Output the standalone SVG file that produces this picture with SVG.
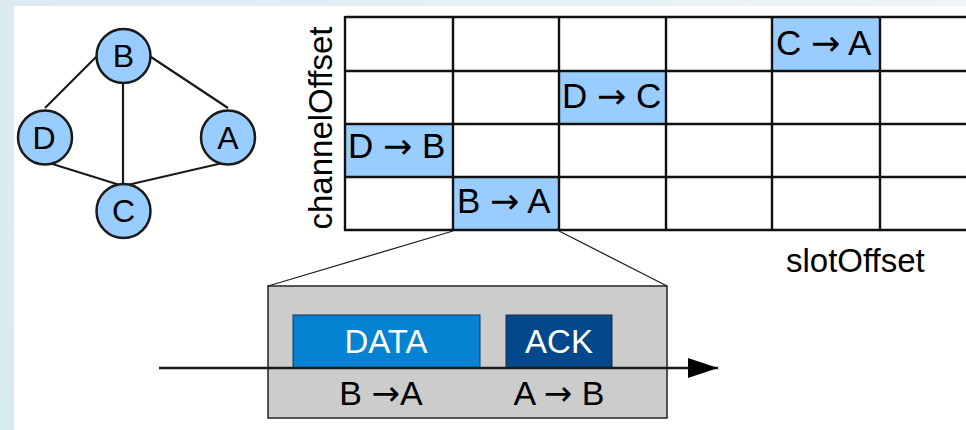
<svg xmlns="http://www.w3.org/2000/svg" width="966" height="430" viewBox="0 0 966 430">
<defs>
<linearGradient id="bgTop" x1="0" y1="0" x2="1" y2="0">
<stop offset="0" stop-color="#dcebf1"/>
<stop offset="1" stop-color="#eef4f7"/>
</linearGradient>
<linearGradient id="bgLeft" x1="0" y1="0" x2="0" y2="1">
<stop offset="0" stop-color="#dcebf1"/>
<stop offset="1" stop-color="#d8eaf1"/>
</linearGradient>
<marker id="arrow" markerWidth="32" markerHeight="22" refX="30" refY="11" orient="auto" markerUnits="userSpaceOnUse">
<path d="M0,1 L30,11 L0,21 Z" fill="#000"/>
</marker>
</defs>
<style>
text{font-family:"Liberation Sans",Arial,sans-serif;fill:#000}
.ar{font-family:"DejaVu Sans",sans-serif}
.node circle{fill:#99ccff;stroke:#1a1a1a;stroke-width:2.5}
.node text{font-size:32px;text-anchor:middle}
.edge{stroke:#1a1a1a;stroke-width:2.2;fill:none}
.grid line{stroke:#111;stroke-width:2.4}
.cell{fill:#99ccff}
.cellt{font-size:35px}
.lbl{font-size:33px}
.zoom{stroke:#222;stroke-width:1.3}
.pkt{font-size:33px;fill:#fff;text-anchor:middle}
.dir{font-size:34px;text-anchor:middle}
</style>
<rect width="966" height="430" fill="#fff"/>
<rect x="0" y="0" width="966" height="6" fill="url(#bgTop)"/>
<rect x="0" y="0" width="14" height="430" fill="url(#bgLeft)"/>

<g id="connectors">
<line class="edge" x1="96" y1="57" x2="45" y2="108"/>
<line class="edge" x1="151" y1="57" x2="228" y2="108"/>
<line class="edge" x1="123" y1="80" x2="123" y2="186"/>
<line class="edge" x1="46" y1="162" x2="123" y2="186"/>
<line class="edge" x1="227" y1="162" x2="123" y2="186"/>
<line class="zoom" x1="453" y1="231" x2="268" y2="286"/>
<line class="zoom" x1="559" y1="231" x2="667" y2="286"/>
</g>

<g id="node-B" class="node"><circle cx="123.5" cy="56" r="27"/><text x="123.5" y="67">B</text></g>
<g id="node-D" class="node"><circle cx="45" cy="137.5" r="27"/><text x="44" y="149">D</text></g>
<g id="node-A" class="node"><circle cx="228" cy="137.5" r="27"/><text x="228" y="149">A</text></g>
<g id="node-C" class="node"><circle cx="123.5" cy="211" r="27"/><text x="123.5" y="222">C</text></g>

<g id="schedule">
<rect class="cell" x="772" y="17" width="108" height="54"/>
<rect class="cell" x="559" y="71" width="107" height="53"/>
<rect class="cell" x="345" y="124" width="108" height="53"/>
<rect class="cell" x="453" y="177" width="106" height="53"/>
<g class="grid">
<line x1="345" y1="17" x2="966" y2="17"/>
<line x1="345" y1="71" x2="966" y2="71"/>
<line x1="345" y1="124" x2="966" y2="124"/>
<line x1="345" y1="177" x2="966" y2="177"/>
<line x1="344" y1="230" x2="966" y2="230"/>
<line x1="345" y1="16" x2="345" y2="231"/>
<line x1="453" y1="16" x2="453" y2="231"/>
<line x1="559" y1="16" x2="559" y2="231"/>
<line x1="666" y1="16" x2="666" y2="231"/>
<line x1="772" y1="16" x2="772" y2="231"/>
<line x1="880" y1="16" x2="880" y2="231"/>
</g>
<text class="cellt" x="776" y="55">C <tspan class="ar">→</tspan> A</text>
<text class="cellt" x="562" y="108">D <tspan class="ar">→</tspan> C</text>
<text class="cellt" x="348" y="158">D <tspan class="ar">→</tspan> B</text>
<text class="cellt" x="457" y="213">B <tspan class="ar">→</tspan> A</text>
<text class="lbl" transform="translate(332,128) rotate(-90)" text-anchor="middle">channelOffset</text>
<text class="lbl" x="786" y="272">slotOffset</text>
</g>

<g id="timeslot">
<rect x="268" y="286" width="399" height="132" fill="#cccccc" stroke="#222" stroke-width="1.5"/>
<g id="data"><rect x="293" y="315" width="187" height="53" fill="#0582d2" stroke="#1a3550" stroke-width="1"/><text class="pkt" x="386" y="353">DATA</text></g>
<g id="ack"><rect x="506" y="315" width="106" height="53" fill="#03488a" stroke="#1a2a40" stroke-width="1"/><text class="pkt" x="559" y="353">ACK</text></g>
<line x1="159" y1="368" x2="718" y2="368" stroke="#1a1a1a" stroke-width="2.5" marker-end="url(#arrow)"/>
<text class="dir" x="381" y="405">B <tspan class="ar">→</tspan>A</text>
<text class="dir" x="559" y="405">A <tspan class="ar">→</tspan> B</text>
</g>
</svg>
